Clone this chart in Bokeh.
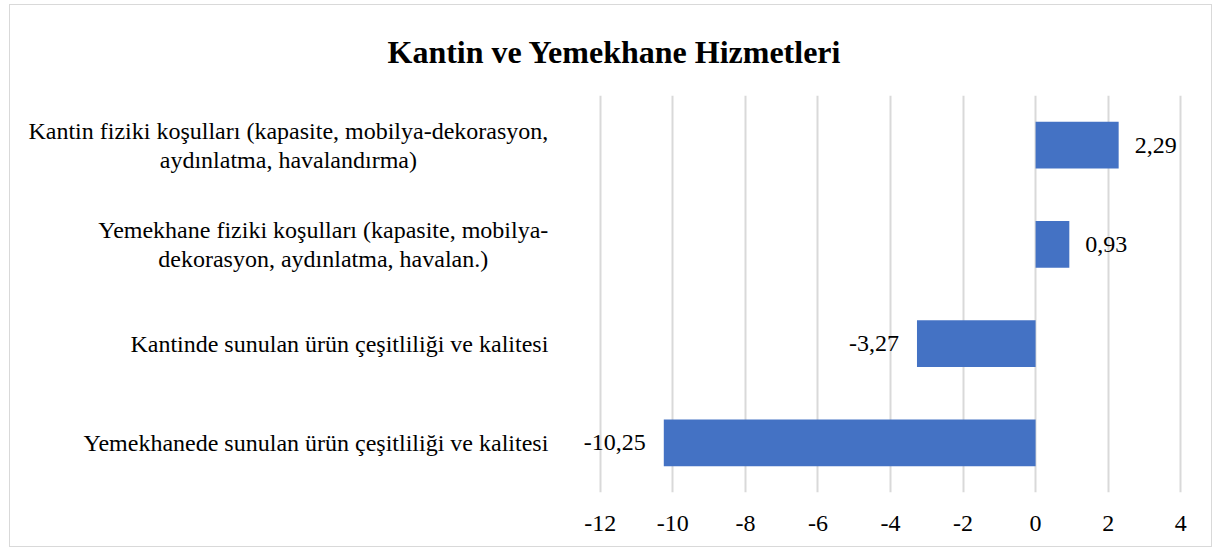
from bokeh.plotting import figure
from bokeh.models import ColumnDataSource, FactorRange, Range1d, FixedTicker
from bokeh.core.properties import value
from bokeh.embed import file_html
from bokeh.resources import INLINE

categories = [
    "Kantin fiziki koşulları (kapasite, mobilya-dekorasyon,\naydınlatma, havalandırma)",
    "Yemekhane fiziki koşulları (kapasite, mobilya-\ndekorasyon, aydınlatma, havalan.)",
    "Kantinde sunulan ürün çeşitliliği ve kalitesi",
    "Yemekhanede sunulan ürün çeşitliliği ve kalitesi",
]
values = [2.29, 0.93, -3.27, -10.25]
x_ticks = [-12, -10, -8, -6, -4, -2, 0, 2, 4]
x_tick_labels = ["-12", "-10", "-8", "-6", "-4", "-2", "0", "2", "4"]

FONT = "Liberation Serif"
TXT = "#000000"

x_min, x_max = x_ticks[0], x_ticks[-1]
pad = 0.05  # tiny padding so edge gridlines are drawn

src = ColumnDataSource(dict(
    cat=categories,
    val=values,
    lab=[f"{v:.2f}".replace(".", ",") for v in values],
    off=[16 if v >= 0 else -18 for v in values],
    al=["left" if v >= 0 else "right" for v in values],
    xmin=[x_min] * len(categories),
))

p = figure(
    width=1203, height=543,
    y_range=FactorRange(factors=list(reversed(categories))),
    x_range=Range1d(x_min - pad, x_max + pad),
    output_backend="svg", toolbar_location=None,
    min_border_left=588, min_border_right=31, min_border_top=90, min_border_bottom=56,
)
p.styles = {"border": "1px solid #d9d9d9", "margin-left": "9px", "margin-top": "4px"}

p.title.text = "Kantin ve Yemekhane Hizmetleri"
p.title.align = "left"
p.title.offset = -211
p.title.vertical_align = "top"
p.title.text_font = FONT
p.title.text_font_size = "32px"
p.title.text_font_style = "bold"
p.title.text_color = TXT
p.title.standoff = 47

p.outline_line_color = None

p.hbar(y="cat", right="val", left=0, height=0.47, source=src,
       fill_color="#4472C4", line_color=None)

# value labels
p.text(x="val", y="cat", text="lab", source=src, x_offset="off",
       text_align="al", text_baseline="middle", level="overlay",
       text_font=value(FONT), text_font_size="24px", text_color=TXT)

# category labels: right-anchored block, centred lines
p.text(x="xmin", y="cat", text="cat", source=src, x_offset=-52,
       anchor="center_right", text_align="center", text_baseline="middle",
       text_line_height=1.12, level="overlay",
       text_font=value(FONT), text_font_size="24px", text_color=TXT)

p.xaxis.ticker = FixedTicker(ticks=x_ticks)
p.xaxis.major_label_overrides = dict(zip(x_ticks, x_tick_labels))
p.xaxis.axis_line_color = None
p.xaxis.major_tick_line_color = None
p.xaxis.minor_tick_line_color = None
p.xaxis.major_label_text_font = FONT
p.xaxis.major_label_text_font_size = "24px"
p.xaxis.major_label_text_color = TXT
p.xaxis.major_label_standoff = 17

p.yaxis.visible = False

p.xgrid.grid_line_color = "#d9d9d9"
p.xgrid.grid_line_width = 2
p.ygrid.grid_line_color = None

open("out.html", "w").write(file_html(p, INLINE))
